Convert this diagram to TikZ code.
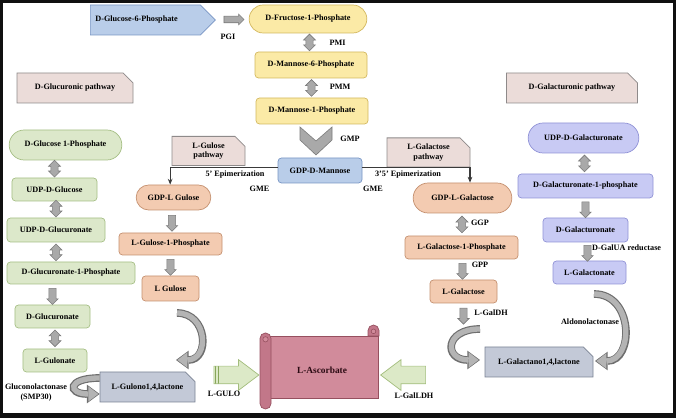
\documentclass[tikz,border=0pt]{standalone}
\usepackage{fontspec}
\setmainfont{Liberation Serif}
\usetikzlibrary{arrows.meta}
\usetikzlibrary{calc}
\usetikzlibrary{shapes.arrows,shapes.misc,shapes.symbols}
\tikzset{>={Stealth[length=5pt,width=4pt]}}
\definecolor{frameBlack}{HTML}{101010}
\definecolor{manFill}{HTML}{FBEAA6}
\definecolor{manEdge}{HTML}{D3B75E}
\definecolor{gdpFill}{HTML}{B9CDE9}
\definecolor{gdpEdge}{HTML}{7895C4}
\definecolor{glcFill}{HTML}{DCE8CA}
\definecolor{glcEdge}{HTML}{A5BE84}
\definecolor{gulFill}{HTML}{F3CBB1}
\definecolor{gulEdge}{HTML}{C4906F}
\definecolor{galFill}{HTML}{C8CAF4}
\definecolor{galEdge}{HTML}{9092D6}
\definecolor{pathFill}{HTML}{EBDCD9}
\definecolor{pathEdge}{HTML}{8E8A8A}
\definecolor{lacFill}{HTML}{C3C9D7}
\definecolor{lacEdge}{HTML}{7B8394}
\definecolor{ascFill}{HTML}{D18B9B}
\definecolor{ascRoll}{HTML}{C27789}
\definecolor{ascEdge}{HTML}{96505F}
\definecolor{ascText}{HTML}{2A0A12}
\definecolor{stepFill}{HTML}{A9A9A9}
\definecolor{stepEdge}{HTML}{7A7A7A}
\definecolor{turnFill}{HTML}{B4B4B4}
\definecolor{turnEdge}{HTML}{6E6E6E}
\definecolor{leafFill}{HTML}{DCE9C7}
\definecolor{leafEdge}{HTML}{A3BD7C}
\definecolor{leafStripe}{HTML}{88A65A}
\definecolor{wire}{HTML}{3A3A3A}
\tikzset{
  every node/.style={font=\bfseries\fontsize{7}{8}\selectfont},
  box/.style={draw, line width=0.6pt, rounded corners=3pt, inner sep=1pt},
  pill/.style={draw, line width=0.6pt, rounded rectangle, inner sep=1pt},
  note/.style={draw, line width=0.7pt, chamfered rectangle, chamfered rectangle corners=north east,
    chamfered rectangle xsep=0.15cm, chamfered rectangle ysep=0.15cm, align=center, inner sep=1pt},
  yel/.style={fill=manFill, draw=manEdge},
  blu/.style={fill=gdpFill, draw=gdpEdge},
  glc/.style={fill=glcFill, draw=glcEdge},
  gul/.style={fill=gulFill, draw=gulEdge},
  gal/.style={fill=galFill, draw=galEdge},
  way/.style={fill=pathFill, draw=pathEdge},
  lac/.style={fill=lacFill, draw=lacEdge},
  blockarrow/.style={fill=stepFill, draw=stepEdge, line width=0.5pt, inner sep=0pt},
  rarrow/.style={blockarrow, single arrow, inner ysep=0.09cm, single arrow head extend=0.06cm, minimum height=0.6cm},
  downarrow/.style={blockarrow, single arrow, rotate=-90, inner ysep=0.1cm, single arrow head extend=0.06cm, minimum height=0.48cm},
  updown/.style={blockarrow, double arrow, rotate=90, inner ysep=0.1cm, double arrow head extend=0.07cm, minimum height=0.5cm},
  leafarrow/.style={single arrow, fill=leafFill, draw=leafEdge, line width=0.6pt, inner sep=0pt,
    inner ysep=0.255cm, single arrow head extend=0.195cm, single arrow tip angle=74, minimum height=1.35cm,
    path picture={
      \draw[leafStripe, line width=1pt] ([xshift=0.05cm]path picture bounding box.south west) -- ([xshift=0.05cm]path picture bounding box.north west);
      \draw[leafStripe, line width=1pt] ([xshift=0.14cm]path picture bounding box.south west) -- ([xshift=0.14cm]path picture bounding box.north west);
    }},
  turnedge/.style={draw=turnEdge, line width=0.23cm, -{Triangle[length=0.38cm, width=0.56cm, line width=0pt]}},
  turnfill/.style={draw=turnFill, line width=0.16cm, shorten >=0.04cm, -{Triangle[length=0.3cm, width=0.46cm, line width=0pt]}},
}

\begin{document}
\begin{tikzpicture}[x=1cm, y=1cm]
    \useasboundingbox (0,0) rectangle (20.28,12.54);
    \draw[line width=0.09cm, frameBlack] (0.045,0.045) rectangle (20.235,12.495);
    \fill[frameBlack] (0,0) rectangle (20.28,0.15);

    % mannose route
    \node[signal, blu, line width=0.6pt, minimum height=0.9cm, text width=3cm, align=left, inner xsep=0.15cm, anchor=west] (g6p) at (2.7,11.94) {D-Glucose-6-Phosphate};
    \node[pill, yel, minimum width=3.6cm, minimum height=0.84cm] (f1p) at (9.24,11.97) {D-Fructose-1-Phosphate};
    \node[box, yel, minimum width=3.36cm, minimum height=0.78cm] (m6p) at (9.33,10.59) {D-Mannose-6-Phosphate};
    \node[box, yel, minimum width=3.36cm, minimum height=0.78cm] (m1p) at (9.36,9.21) {D-Mannose-1-Phosphate};
    \node[box, blu, minimum width=2.52cm, minimum height=0.75cm] (gdpman) at (9.6,7.425) {GDP-D-Mannose};

    \node[rarrow] (pgi) at ($(g6p.east)!0.5!(f1p.west)$) {};
    \node[updown] (pmi) at ($(f1p.south)!0.5!(m6p.north)$) {};
    \node[updown] (pmm) at ($(m6p.south)!0.5!(m1p.north)$) {};
    \coordinate (gmp) at ($(m1p.south)!0.5!(gdpman.north)$);
    \filldraw[fill=stepFill, draw=stepEdge, line width=0.5pt] ($(gmp)+(-0.48,0.42)$) -- ++(0.48,-0.42) -- ++(0.48,0.42) -- ++(0,-0.39) -- ++(-0.48,-0.45) -- ++(-0.48,0.45) -- cycle;

    \node (pgiL) at (6.84,11.43) {PGI};
    \node (pmiL) at (10.125,11.25) {PMI};
    \node (pmmL) at (10.2,9.93) {PMM};
    \node (gmpL) at (10.5,8.37) {GMP};

    % pathway headers
    \node[note, way, minimum width=3.48cm, minimum height=0.9cm] (glcway) at (2.25,9.9) {D-Glucuronic pathway};
    \node[note, way, minimum width=3.93cm, minimum height=0.9cm] (galway) at (17.16,9.9) {D-Galacturonic pathway};
    \node[note, way, minimum width=2.19cm, minimum height=0.78cm] (gulway) at (6.255,8.01) {L-Gulose\\pathway};
    \node[note, way, minimum width=2.49cm, minimum height=0.87cm] (galtway) at (12.855,7.965) {L-Galactose\\pathway};

    % D-glucuronic route
    \node[pill, glc, minimum width=3.45cm, minimum height=0.9cm] (g1p) at (1.965,8.19) {D-Glucose 1-Phosphate};
    \node[box, glc, minimum width=2.55cm, minimum height=0.69cm] (udpglc) at (1.635,6.855) {UDP-D-Glucose};
    \node[box, glc, minimum width=2.94cm, minimum height=0.72cm] (udpglcA) at (1.68,5.64) {UDP-D-Glucuronate};
    \node[box, glc, minimum width=3.84cm, minimum height=0.66cm] (glcA1p) at (2.13,4.35) {D-Glucuronate-1-Phosphate};
    \node[box, glc, minimum width=2.25cm, minimum height=0.69cm] (glcA) at (1.575,3.045) {D-Glucuronate};
    \node[box, glc, minimum width=1.92cm, minimum height=0.69cm] (gulonate) at (1.65,1.725) {L-Gulonate};
    \node[note, lac, minimum width=2.85cm, minimum height=0.9cm] (gulonolac) at (4.425,0.93) {L-Gulono1,4,lactone};

    \node[updown] at ($(udpglc.north)+(0,0.27)$) {};
    \node[updown] at ($(udpglcA.north)+(0,0.27)$) {};
    \node[updown] at ($(udpglcA.south)+(0,-0.3)$) {};
    \node[downarrow] at ($(glcA.north)+(0,0.3)$) {};
    \node[updown] at ($(gulonate.north)+(0,0.31)$) {};
    \node[align=center] (smpL) at (1.08,0.765) {Gluconolactonase\\(SMP30)};

    % L-gulose route
    \node[pill, gul, minimum width=2.31cm, minimum height=0.75cm] (gdpgul) at (5.205,6.615) {GDP-L Gulose};
    \node[box, gul, minimum width=3.09cm, minimum height=0.66cm] (gul1p) at (5.115,5.22) {L-Gulose-1-Phosphate};
    \node[box, gul, minimum width=1.71cm, minimum height=0.75cm] (lgul) at (5.115,3.885) {L Gulose};
    \node[downarrow] at ($(gdpgul.south)!0.5!(gul1p.north)$) {};
    \node[downarrow] at ($(gul1p.south)!0.5!(lgul.north)$) {};

    % L-galactose route
    \node[pill, gul, minimum width=3.03cm, minimum height=0.9cm] (gdpgal) at (13.875,6.6) {GDP-L-Galactose};
    \node[box, gul, minimum width=3.39cm, minimum height=0.69cm] (gal1p) at (13.845,5.115) {L-Galactose-1-Phosphate};
    \node[box, gul, minimum width=2.01cm, minimum height=0.69cm] (lgal) at (13.905,3.795) {L-Galactose};
    \node[note, lac, minimum width=3.24cm, minimum height=0.9cm] (galactlac) at (16.17,1.68) {L-Galactano1,4,lactone};
    \node[updown] at ($(gdpgal.south)!0.5!(gal1p.north)$) {};
    \node[downarrow] at ($(gal1p.south)!0.5!(lgal.north)$) {};
    \node[downarrow] at ($(lgal.south)+(0,-0.33)$) {};
    \node (ggpL) at (14.4,5.85) {GGP};
    \node (gppL) at (14.4,4.59) {GPP};
    \node (galdhL) at (14.73,3.15) {L-GalDH};

    % D-galacturonic route
    \node[pill, gal, minimum width=3.39cm, minimum height=0.9cm] (udpgalA) at (17.505,8.4) {UDP-D-Galacturonate};
    \node[box, gal, minimum width=4.05cm, minimum height=0.72cm] (galA1p) at (17.565,6.96) {D-Galacturonate-1-phosphate};
    \node[box, gal, minimum width=2.55cm, minimum height=0.72cm] (galA) at (17.565,5.64) {D-Galacturonate};
    \node[box, gal, minimum width=2.19cm, minimum height=0.69cm] (galn) at (17.685,4.365) {L-Galactonate};
    \node[updown] at ($(udpgalA.south)!0.5!(galA1p.north)$) {};
    \node[downarrow] at ($(galA1p.south)!0.5!(galA.north)$) {};
    \node[downarrow] at ($(galA.south)!0.5!(galn.north)$) {};
    \node (reductL) at (18.8,5.1) {D-GalUA reductase};
    \node (aldoL) at (17.7,2.88) {Aldonolactonase};

    % epimerase branches
    \draw[wire, line width=0.9pt, ->] ([yshift=0.09cm]gdpman.west) -| ([xshift=-0.1cm]gdpgul.north);
    \draw[wire, line width=0.9pt, ->] ([yshift=0.09cm]gdpman.east) -| ([xshift=0.225cm]gdpgal.north);
    \node (epi5) at (7.05,7.29) {5' Epimerization};
    \node (gme1) at (7.785,6.87) {GME};
    \node (epi35) at (12.24,7.29) {3'5' Epimerization};
    \node (gme2) at (11.19,6.87) {GME};

    % curved arrows into the lactones
    \coordinate (gulout) at (5.31,3.15);
    \coordinate (gulin) at (5.28,1.74);
    \coordinate (galout) at (14.4,2.67);
    \coordinate (galin) at (14.4,1.74);
    \coordinate (aldout) at (17.82,3.72);
    \coordinate (aldin) at (17.85,1.71);
    \draw[turnedge] ([yshift=0.27cm]gulonolac.west) .. controls +(-0.99,0) and +(-0.96,0) .. ([yshift=-0.21cm]gulonolac.west);
    \draw[turnfill] ([yshift=0.27cm]gulonolac.west) .. controls +(-0.99,0) and +(-0.96,0) .. ([yshift=-0.21cm]gulonolac.west);
    \draw[turnedge] (gulout) .. controls +(0.93,0) and +(1.02,0) .. (gulin);
    \draw[turnfill] (gulout) .. controls +(0.93,0) and +(1.02,0) .. (gulin);
    \draw[turnedge] (galout) .. controls +(-1.08,0) and +(-1.08,0) .. (galin);
    \draw[turnfill] (galout) .. controls +(-1.08,0) and +(-1.08,0) .. (galin);
    \draw[turnedge] (aldout) .. controls +(1.2,0) and +(1.17,0) .. (aldin);
    \draw[turnfill] (aldout) .. controls +(1.2,0) and +(1.17,0) .. (aldin);

    % ascorbate scroll
    \filldraw[fill=ascFill, draw=ascEdge, line width=0.6pt] (7.95,0.6) rectangle (11.34,2.46);
    \filldraw[fill=ascRoll, draw=ascEdge, line width=0.6pt] (11.04,2.46) -- (11.04,2.625) arc[start angle=180, end angle=0, radius=0.165] -- (11.37,2.46) -- cycle;
    \filldraw[fill=ascFill, draw=ascEdge, line width=0.5pt] (11.205,2.6) circle (0.07);
    \filldraw[fill=ascRoll, draw=ascEdge, line width=0.6pt, rounded corners=0.16cm] (7.8,0.27) rectangle (8.13,2.55);
    \filldraw[fill=ascFill, draw=ascEdge, line width=0.5pt] (7.965,2.36) circle (0.08);
    \node[font=\bfseries\fontsize{8}{9}\selectfont, text=ascText] (asc) at (9.66,1.44) {L-Ascorbate};

    \node[leafarrow] (gulo) at (6.915,1.29) {};
    \node[leafarrow, rotate=180] (galldh) at (12.27,1.29) {};
    \node (guloL) at (6.72,0.72) {L-GULO};
    \node (galldhL) at (12.42,0.66) {L-GalLDH};
\end{tikzpicture}
\end{document}
